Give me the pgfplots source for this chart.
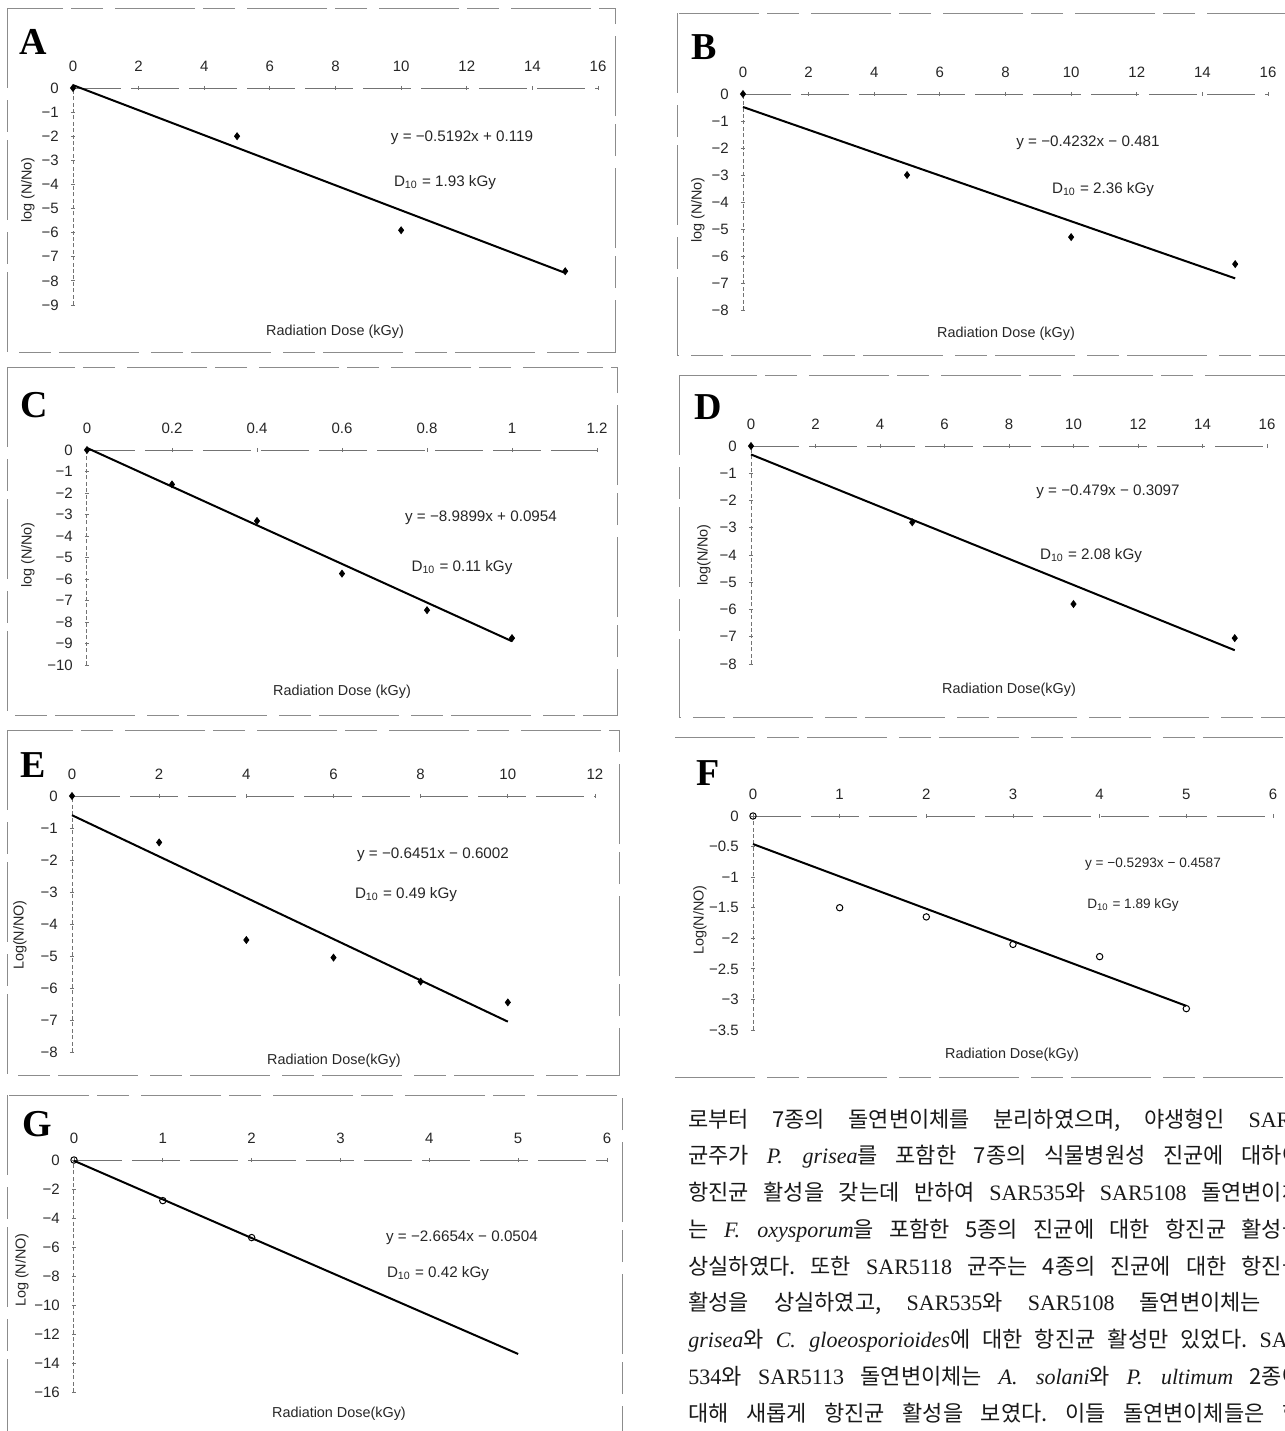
\documentclass[border=0pt]{standalone}
\usepackage{fontspec}
\setmainfont{Liberation Sans}
\newfontfamily\kr{Noto Sans CJK KR}
\newfontfamily\lat{Liberation Serif}
\usepackage{pgfplots}
\pgfplotsset{compat=1.18}
\frenchspacing
\newcommand\La[1]{{\lat #1}}
\newcommand\It[1]{{\lat\itshape #1}}
\newcommand\lab{\fontsize{7.2}{9}\selectfont}
\newcommand\eqf{\fontsize{7.6}{9}\selectfont}
\newcommand\letf{\lat\bfseries\fontsize{19}{20}\selectfont}
\pgfplotsset{
  panel/.style={
    scale only axis, clip=false, anchor=north west,
    axis x line=top, axis y line=left,
    enlargelimits=false,
    axis line style={-, black!55, line width=0.5pt},
    x axis line style={dash pattern=on 24pt off 5pt},
    y axis line style={dash pattern=on 2pt off 1.2pt},
    tick style={black!55, line width=0.4pt},
    major tick length=2.2pt,
    tick label style={font=\fontsize{7.5}{9}\selectfont, text=black!85},
    xticklabel style={yshift=3.5pt},
    yticklabel style={xshift=-2.5pt},
    ymax=0,
  },
  pts/.style={only marks, mark=diamond*, mark size=1.7pt, black},
  opts/.style={only marks, mark=o, mark size=1.6pt, black, mark options={line width=0.5pt}},
  fit/.style={black, line width=1pt, no marks},
}
\begin{document}
\begin{tikzpicture}
\useasboundingbox (0,0) rectangle (642.5pt,-715.5pt);
% A
\begin{axis}[panel, at={(36.5pt,-44pt)}, width=262.5pt, height=108.5pt,
  xmin=0, xmax=16, ymin=-9,
  xtick={0,2,...,16}, xticklabels={0,2,4,6,8,10,12,14,16},
  ytick={0,-1,...,-9}, yticklabels={0,−1,−2,−3,−4,−5,−6,−7,−8,−9}]
\addplot[fit] coordinates {(0,0.119) (15,-7.669)};
\addplot[pts] coordinates {(0,0) (5,-2) (10,-5.9) (15,-7.6)};
\end{axis}
% B
\begin{axis}[panel, at={(371.5pt,-47pt)}, width=262.5pt, height=108pt,
  xmin=0, xmax=16, ymin=-8,
  xtick={0,2,...,16}, xticklabels={0,2,4,6,8,10,12,14,16},
  ytick={0,-1,...,-8}, yticklabels={0,−1,−2,−3,−4,−5,−6,−7,−8}]
\addplot[fit] coordinates {(0,-0.481) (15,-6.829)};
\addplot[pts] coordinates {(0,0) (5,-3) (10,-5.3) (15,-6.3)};
\end{axis}
% C
\begin{axis}[panel, at={(43.5pt,-225pt)}, width=255pt, height=107.5pt,
  xmin=0, xmax=1.2, ymin=-10,
  xtick={0,0.2,0.4,0.6,0.8,1,1.2}, xticklabels={0,0.2,0.4,0.6,0.8,1,1.2},
  ytick={0,-1,...,-10}, yticklabels={0,−1,−2,−3,−4,−5,−6,−7,−8,−9,−10}]
\addplot[fit] coordinates {(0,0.0954) (1,-8.8945)};
\addplot[pts] coordinates {(0,0) (0.2,-1.6) (0.4,-3.3) (0.6,-5.75) (0.8,-7.45) (1,-8.75)};
\end{axis}
% D
\begin{axis}[panel, at={(375.5pt,-223pt)}, width=258pt, height=109pt,
  xmin=0, xmax=16, ymin=-8,
  xtick={0,2,...,16}, xticklabels={0,2,4,6,8,10,12,14,16},
  ytick={0,-1,...,-8}, yticklabels={0,−1,−2,−3,−4,−5,−6,−7,−8}]
\addplot[fit] coordinates {(0,-0.3097) (15,-7.4947)};
\addplot[pts] coordinates {(0,0) (5,-2.8) (10,-5.8) (15,-7.05)};
\end{axis}
% E
\begin{axis}[panel, at={(36pt,-398pt)}, width=261.5pt, height=128pt,
  xmin=0, xmax=12, ymin=-8,
  xtick={0,2,...,12}, xticklabels={0,2,4,6,8,10,12},
  ytick={0,-1,...,-8}, yticklabels={0,−1,−2,−3,−4,−5,−6,−7,−8}]
\addplot[fit] coordinates {(0,-0.6002) (10,-7.0512)};
\addplot[pts] coordinates {(0,0) (2,-1.45) (4,-4.5) (6,-5.05) (8,-5.8) (10,-6.45)};
\end{axis}
% F
\begin{axis}[panel, at={(376.5pt,-408pt)}, width=260pt, height=107pt,
  xmin=0, xmax=6, ymin=-3.5,
  xtick={0,1,...,6}, xticklabels={0,1,2,3,4,5,6},
  ytick={0,-0.5,-1,-1.5,-2,-2.5,-3,-3.5}, yticklabels={0,−0.5,−1,−1.5,−2,−2.5,−3,−3.5}]
\addplot[fit] coordinates {(0,-0.4587) (5,-3.1052)};
\addplot[opts] coordinates {(0,0) (1,-1.5) (2,-1.65) (3,-2.1) (4,-2.3) (5,-3.15)};
\end{axis}
% G
\begin{axis}[panel, at={(37pt,-580pt)}, width=266.5pt, height=116pt,
  xmin=0, xmax=6, ymin=-16,
  xtick={0,1,...,6}, xticklabels={0,1,2,3,4,5,6},
  ytick={0,-2,...,-16}, yticklabels={0,−2,−4,−6,−8,−10,−12,−14,−16}]
\addplot[fit] coordinates {(0,-0.0504) (5,-13.3774)};
\addplot[opts] coordinates {(0,0) (1,-2.8) (2,-5.35)};
\end{axis}
\begin{scope}[x=0.5pt, y=-0.5pt]
% frames
\begin{scope}[black!45, line width=0.5pt, dash pattern=on 40pt off 6pt on 16pt off 4pt]
\draw (7,8) rectangle (615,352);
\draw (677,13) rectangle (1300,355);
\draw (7,367) rectangle (617,715);
\draw (679,375) rectangle (1300,717);
\draw (7,730) rectangle (619,1075);
\draw (675,737) -- (1300,737);
\draw (675,1077) -- (1300,1077);
\draw (7,1095) rectangle (622,1445);
\end{scope}
% letters
\node[font=\letf] at (33,42) {A};
\node[font=\letf] at (704,47) {B};
\node[font=\letf] at (34,405) {C};
\node[font=\letf] at (708,407) {D};
\node[font=\letf] at (33,765) {E};
\node[font=\letf] at (708,773) {F};
\node[font=\letf] at (37,1124) {G};
% axis labels
\begin{scope}[every node/.style={font=\lab, text=black!85}]
\node at (335,332) {Radiation Dose (kGy)};
\node at (1006,334) {Radiation Dose (kGy)};
\node at (342,692) {Radiation Dose (kGy)};
\node at (1009,690) {Radiation Dose(kGy)};
\node at (334,1061) {Radiation Dose(kGy)};
\node at (1012,1055) {Radiation Dose(kGy)};
\node at (339,1414) {Radiation Dose(kGy)};
\node[rotate=90] at (28,190) {log (N/No)};
\node[rotate=90] at (698,210) {log (N/No)};
\node[rotate=90] at (28,555) {log (N/No)};
\node[rotate=90] at (704,555) {log(N/No)};
\node[rotate=90] at (20,935) {Log(N/NO)};
\node[rotate=90] at (700,920) {Log(N/NO)};
\node[rotate=90] at (22,1270) {Log (N/NO)};
\end{scope}
% equations
\begin{scope}[every node/.style={font=\eqf, text=black!85}]
\node at (462,138) {y = −0.5192x + 0.119};
\node at (445,183) {D\textsubscript{10} = 1.93 kGy};
\node at (1088,143) {y = −0.4232x − 0.481};
\node at (1103,190) {D\textsubscript{10} = 2.36 kGy};
\node at (481,518) {y = −8.9899x + 0.0954};
\node at (462,568) {D\textsubscript{10} = 0.11 kGy};
\node at (1108,492) {y = −0.479x − 0.3097};
\node at (1091,556) {D\textsubscript{10} = 2.08 kGy};
\node at (433,855) {y = −0.6451x − 0.6002};
\node at (406,895) {D\textsubscript{10} = 0.49 kGy};
\node[font=\fontsize{6.8}{8}\selectfont] at (1153,864) {y = −0.5293x − 0.4587};
\node[font=\fontsize{6.8}{8}\selectfont] at (1133,905) {D\textsubscript{10} = 1.89 kGy};
\node at (462,1238) {y = −2.6654x − 0.0504};
\node at (438,1274) {D\textsubscript{10} = 0.42 kGy};
\end{scope}
% Korean text
\begin{scope}[every node/.style={anchor=base west, inner sep=0pt, font={\kr\fontsize{11}{13}\selectfont}, text=black!90}]
\node at (688,1127) {\makebox[307pt][s]{로부터 7종의 돌연변이체를 분리하였으며, 야생형인 \La{SAR0}}};
\node at (688,1163.75) {\makebox[307pt][s]{균주가 \It{P. grisea}를 포함한 7종의 식물병원성 진균에 대하여}};
\node at (688,1200.5) {\makebox[307pt][s]{항진균 활성을 갖는데 반하여 \La{SAR535}와 \La{SAR5108} 돌연변이체}};
\node at (688,1237.25) {\makebox[307pt][s]{는 \It{F. oxysporum}을 포함한 5종의 진균에 대한 항진균 활성을}};
\node at (688,1274) {\makebox[307pt][s]{상실하였다. 또한 \La{SAR5118} 균주는 4종의 진균에 대한 항진균}};
\node at (688,1310.75) {\makebox[307pt][s]{활성을 상실하였고, \La{SAR535}와 \La{SAR5108} 돌연변이체는 \It{P.}}};
\node at (688,1347.5) {\makebox[307pt][s]{\It{grisea}와 \It{C. gloeosporioides}에 대한 항진균 활성만 있었다. \La{SAR}}};
\node at (688,1384.25) {\makebox[307pt][s]{\La{534}와 \La{SAR5113} 돌연변이체는 \It{A. solani}와 \It{P. ultimum} 2종에}};
\node at (688,1421) {\makebox[307pt][s]{대해 새롭게 항진균 활성을 보였다. 이들 돌연변이체들은 항}};
\end{scope}
\end{scope}
\end{tikzpicture}
\end{document}
